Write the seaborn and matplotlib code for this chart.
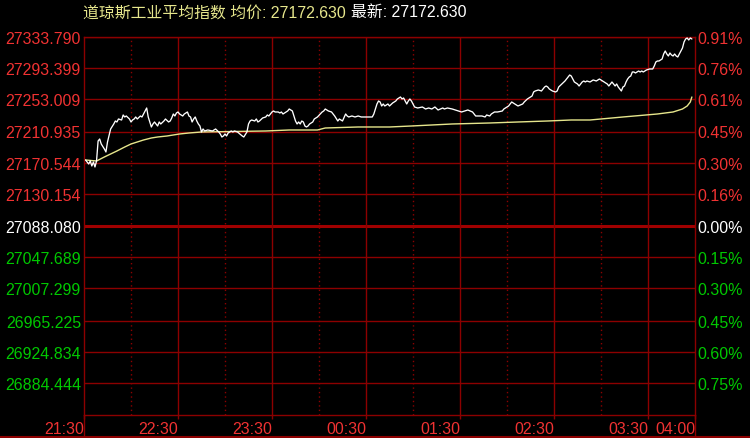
import matplotlib
matplotlib.use("Agg")
import matplotlib.pyplot as plt
from matplotlib.lines import Line2D
from matplotlib.text import Annotation
import seaborn as sns
import pandas as pd

# ---------------- data ----------------
title_name = "道琼斯工业平均指数"
avg_label = "均价: 27172.630"
last_label = "最新: 27172.630"

time_labels = ["21:30", "22:30", "23:30", "00:30", "01:30", "02:30", "03:30", "04:00"]
time_ticks = [0, 60, 120, 180, 240, 300, 360, 390]   # minutes since 21:30
hour_marks = [30, 90, 150, 210, 270, 330]             # dotted :00 lines

price_labels = ["27333.790", "27293.399", "27253.009", "27210.935", "27170.544",
                "27130.154", "27088.080", "27047.689", "27007.299", "26965.225",
                "26924.834", "26884.444"]
pct_labels = ["0.91%", "0.76%", "0.61%", "0.45%", "0.30%", "0.16%", "0.00%",
              "0.15%", "0.30%", "0.45%", "0.60%", "0.75%"]
label_sides = ["up"] * 6 + ["flat"] + ["down"] * 5
prev_close = 27088.080
y_top = 27333.790
y_bottom = 26842.37

price_minutes = [1, 3, 4, 5, 6, 7, 8, 9, 10, 11, 13, 14, 15, 17, 19, 20, 21, 22, 24, 25,
                 26, 27, 29, 30, 31, 32, 33, 34, 36, 37, 38, 40, 41, 42, 43, 44, 45, 46, 47, 48,
                 49, 51, 52, 54, 55, 56, 57, 58, 59, 60, 61, 63, 64, 66, 67, 68, 69, 70, 71, 72,
                 73, 74, 75, 76, 77, 79, 82, 84, 86, 87, 88, 89, 90, 91, 92, 93, 94, 95, 96, 98,
                 101, 102, 104, 105, 106, 107, 109, 110, 111, 112, 114, 116, 117, 118, 119, 120,
                 121, 122, 124, 125, 126, 127, 129, 130, 131, 133, 134, 135, 136, 137, 138, 139,
                 140, 141, 142, 143, 144, 146, 147, 149, 152, 153, 154, 156, 158, 160, 162, 163,
                 165, 167, 168, 169, 171, 173, 175, 177, 179, 181, 184, 185, 186, 187, 188, 189,
                 190, 191, 192, 194, 195, 197, 199, 200, 202, 203, 204, 205, 206, 207, 208, 209,
                 210, 211, 213, 216, 218, 220, 222, 224, 226, 229, 230, 232, 235, 237, 239, 241,
                 243, 245, 248, 250, 252, 254, 256, 257, 259, 260, 262, 264, 267, 268, 270, 271,
                 272, 273, 275, 277, 280, 281, 283, 286, 287, 288, 290, 292, 294, 295, 296, 297,
                 299, 301, 302, 303, 305, 307, 309, 310, 311, 312, 313, 315, 316, 317, 318, 319,
                 320, 321, 323, 325, 327, 329, 331, 332, 334, 335, 336, 337, 338, 339, 340, 341,
                 343, 344, 345, 346, 347, 348, 349, 350, 351, 352, 353, 354, 355, 356, 357, 358,
                 359, 361, 363, 364, 365, 366, 367, 369, 370, 371, 372, 373, 374, 375, 376, 377,
                 378, 379, 380, 381, 382, 383, 384, 385, 386, 387, 388]
price_values = [27173.9, 27168.7, 27172.6, 27166.1, 27171.3, 27164.8, 27172.6, 27198.6, 27201.2, 27194.7,
                27188.2, 27184.3, 27197.3, 27214.2, 27220.7, 27224.6, 27223.3, 27227.2, 27225.9, 27232.4,
                27229.8, 27231.1, 27227.2, 27223.3, 27225.9, 27227.2, 27229.8, 27227.2, 27231.1, 27229.8,
                27233.7, 27241.5, 27229.8, 27223.3, 27216.8, 27220.7, 27223.3, 27220.7, 27218.1, 27223.3,
                27220.7, 27224.6, 27227.2, 27223.3, 27224.6, 27228.5, 27233.7, 27231.1, 27235.0, 27236.3,
                27233.7, 27231.1, 27233.7, 27236.3, 27231.1, 27229.8, 27223.3, 27227.2, 27229.8, 27224.6,
                27220.7, 27218.1, 27210.3, 27214.2, 27211.6, 27212.9, 27211.6, 27214.2, 27210.3, 27207.7,
                27203.8, 27205.1, 27207.7, 27205.1, 27209.0, 27210.3, 27211.6, 27210.3, 27211.6, 27210.3,
                27205.1, 27203.8, 27210.3, 27220.7, 27224.6, 27225.9, 27224.6, 27227.2, 27223.3, 27224.6,
                27228.5, 27229.8, 27232.4, 27231.1, 27233.7, 27236.3, 27237.6, 27236.3, 27236.3, 27235.0,
                27236.3, 27233.7, 27236.3, 27237.6, 27240.2, 27237.6, 27231.1, 27224.6, 27220.7, 27223.3,
                27220.7, 27224.6, 27223.3, 27218.1, 27216.8, 27218.1, 27220.7, 27223.3, 27227.2, 27229.8,
                27236.3, 27237.6, 27240.2, 27237.6, 27236.3, 27231.1, 27224.6, 27227.2, 27224.6, 27233.7,
                27231.1, 27229.8, 27231.1, 27229.8, 27231.1, 27229.8, 27229.8, 27229.8, 27229.8, 27233.7,
                27240.2, 27246.7, 27250.6, 27249.3, 27244.1, 27246.7, 27244.1, 27246.7, 27244.1, 27248.0,
                27250.6, 27253.2, 27255.8, 27253.2, 27254.5, 27250.6, 27246.7, 27250.6, 27253.2, 27250.6,
                27246.7, 27242.8, 27241.5, 27242.8, 27240.2, 27241.5, 27240.2, 27242.8, 27238.9, 27241.5,
                27240.2, 27241.5, 27240.2, 27238.9, 27237.6, 27236.3, 27237.6, 27238.9, 27236.3, 27231.1,
                27231.1, 27231.1, 27229.8, 27232.4, 27231.1, 27233.7, 27236.3, 27236.3, 27237.6, 27240.2,
                27242.8, 27244.1, 27246.7, 27249.3, 27246.7, 27244.1, 27246.7, 27249.3, 27253.2, 27257.1,
                27262.3, 27263.6, 27264.9, 27263.6, 27268.8, 27270.1, 27268.8, 27266.2, 27263.6, 27262.3,
                27263.6, 27268.8, 27272.7, 27276.6, 27281.8, 27284.4, 27283.1, 27279.2, 27275.3, 27272.7,
                27270.1, 27272.7, 27275.3, 27276.6, 27275.3, 27276.6, 27275.3, 27277.9, 27276.6, 27279.2,
                27276.6, 27275.3, 27272.7, 27270.1, 27272.7, 27275.3, 27272.7, 27270.1, 27272.7, 27268.8,
                27263.6, 27268.8, 27270.1, 27275.3, 27279.2, 27281.8, 27283.1, 27288.3, 27288.3, 27287.0,
                27288.3, 27289.6, 27288.3, 27289.6, 27288.3, 27289.6, 27290.9, 27292.2, 27292.2, 27296.1,
                27301.3, 27302.6, 27302.6, 27305.2, 27311.7, 27315.6, 27311.7, 27309.1, 27313.0, 27310.4,
                27309.1, 27311.7, 27309.1, 27307.8, 27311.7, 27315.6, 27319.5, 27327.3, 27331.2, 27332.5,
                27329.9, 27332.5, 27331.2]

avg_minutes = [1, 8, 13, 17, 21, 26, 30, 34, 38, 43, 47, 53, 61, 67, 75, 116, 131, 149, 154,
               175, 195, 209, 235, 259, 277, 296, 311, 323, 344, 366, 376, 382, 385, 387, 388]
avg_values = [27173.9, 27172.6, 27177.8, 27181.7, 27185.6, 27190.8, 27194.7, 27197.3, 27199.9,
              27202.5, 27203.8, 27205.1, 27207.7, 27209.0, 27210.3, 27211.6, 27212.9, 27212.9,
              27215.5, 27216.8, 27216.8, 27218.1, 27220.7, 27222.0, 27223.3, 27224.6, 27225.9,
              27225.9, 27229.8, 27233.7, 27236.3, 27240.2, 27244.1, 27249.3, 27255.8]

# ---------------- style ----------------
sns.set_theme(style="dark")
BG = "#000000"
GRID = "#8c0000"
RED = "#f03232"
GREEN = "#00c800"
WHITE = "#ffffff"
YELLOW = "#e6e68c"
plt.rcParams["font.family"] = ["Liberation Sans", "Noto Sans CJK SC", "DejaVu Sans"]
plt.rcParams["axes.facecolor"] = BG
plt.rcParams["figure.facecolor"] = BG

W, H = 750, 439
fig = plt.figure(figsize=(W / 100, H / 100), dpi=100)
x0, x1, yt, yb = 84, 695, 38, 416
ax = fig.add_axes([x0 / W, 1 - yb / H, (x1 - x0) / W, (yb - yt) / H])
ax.set_facecolor(BG)

price_df = pd.DataFrame({"minute": price_minutes, "price": price_values})
avg_df = pd.DataFrame({"minute": avg_minutes, "price": avg_values})

ax.set_xlim(0, 390)
ax.set_ylim(y_bottom, y_top)

# grid
yvals = [float(s) for s in price_labels]
for v in yvals:
    if abs(v - prev_close) < 1e-6:
        ax.axhline(v, color="#a00000", lw=2.2, zorder=1)
    else:
        ax.axhline(v, color=GRID, lw=1.0, zorder=1)
for t in time_ticks[1:-1]:
    ax.axvline(t, color=GRID, lw=1.0, zorder=1)
for t in hour_marks:
    ax.axvline(t, color=GRID, lw=1.0, ls=(0, (1, 2.2)), zorder=1)

sns.lineplot(data=avg_df, x="minute", y="price", ax=ax, color=YELLOW, lw=1.0, zorder=3)
sns.lineplot(data=price_df, x="minute", y="price", ax=ax, color=WHITE, lw=0.95, zorder=4)
ax.set_xlabel("")
ax.set_ylabel("")

for s in ax.spines.values():
    s.set_color(GRID)
    s.set_linewidth(1.0)
    s.set_visible(True)

FS = 11.5
# x ticks
ax.set_xticks(time_ticks)
ax.set_xticklabels(time_labels)
ax.tick_params(axis="x", length=3, width=1, color=GRID, pad=1.5, labelsize=FS, labelcolor=RED, bottom=True)
for lab in ax.get_xticklabels():
    lab.set_ha("right")

# left y ticks
colors = {"up": RED, "flat": WHITE, "down": GREEN}
ax.set_yticks(yvals)
ax.set_yticklabels(price_labels)
ax.tick_params(axis="y", length=0, pad=2.2, labelsize=FS, left=True)
for lab, side in zip(ax.get_yticklabels(), label_sides):
    lab.set_color(colors[side])

# right y ticks
ax2 = ax.twinx()
ax2.set_ylim(y_bottom, y_top)
ax2.set_yticks(yvals)
ax2.set_yticklabels(pct_labels)
ax2.tick_params(axis="y", length=0, pad=1.5, labelsize=FS, right=True)
for lab, side in zip(ax2.get_yticklabels(), label_sides):
    lab.set_color(colors[side])
for s in ax2.spines.values():
    s.set_visible(False)
ax2.grid(False)
ax.grid(False)

# frame extensions below the plot
for xp in (x0, x1):
    fig.add_artist(Line2D([xp / W, xp / W], [1.5 / H, 1 - yb / H], color=GRID, lw=1.0,
                          transform=fig.transFigure))
fig.add_artist(Line2D([0, 1], [1.5 / H, 1.5 / H], color=GRID, lw=1.5, transform=fig.transFigure))

# title
title_font = ["Liberation Sans", "Noto Sans CJK SC"]
TFS = 11.4
t1 = fig.text(83 / W, 1 - 13 / H, f"{title_name} {avg_label}", color=YELLOW, fontsize=TFS,
              va="center", ha="left", family=title_font)
fig.add_artist(Annotation(last_label, xy=(1, 0.5), xycoords=t1,
                          xytext=(4, 0), textcoords="offset points",
                          color=WHITE, fontsize=TFS, va="center", ha="left",
                          family=title_font))

fig.savefig("out.png", dpi=100, facecolor=BG)
